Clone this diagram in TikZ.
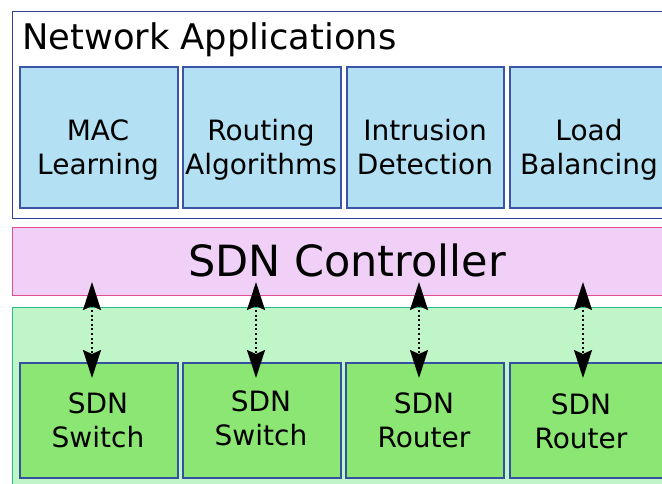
\documentclass[tikz,border=0pt]{standalone}
\usepackage{fontspec}
\setmainfont{DejaVu Sans}
\usetikzlibrary{arrows.meta}

\definecolor{appfill}{HTML}{B3E0F3}
\definecolor{appline}{HTML}{3A55A5}
\definecolor{layerline}{HTML}{2C3F9A}
\definecolor{ctrlfill}{HTML}{F0D0F7}
\definecolor{ctrlline}{HTML}{E04D90}
\definecolor{devlayerfill}{HTML}{C0F5C7}
\definecolor{devlayerline}{HTML}{28B98A}
\definecolor{devfill}{HTML}{8BE673}
\definecolor{devline}{HTML}{3550A0}

\tikzset{
  layerbox/.style={draw, line width=1.3pt},
  appbox/.style={draw=appline, fill=appfill, line width=1.5pt, inner sep=0pt, anchor=north west},
  devbox/.style={draw=devline, fill=devfill, line width=1.5pt, inner sep=0pt, anchor=north west},
  boxtext/.style={inner sep=0pt, anchor=base, font=\fontsize{28}{34}\selectfont},
  link/.style={line width=2pt, dash pattern=on 2pt off 2.6pt,
    {Stealth[length=28pt,width=18pt,inset=4pt]}-{Stealth[length=28pt,width=18pt,inset=4pt]}}
}

\newcommand{\twolines}[2]{\setlength{\tabcolsep}{0pt}\begin{tabular}[t]{c}#1\\#2\end{tabular}}

\begin{document}
\begin{tikzpicture}[x=1pt,y=-1pt]
  \useasboundingbox (0,0) rectangle (662,483);
  \clip (0,0) rectangle (662,483);

  % application layer
  \node[layerbox, draw=layerline, fill=white, inner sep=0pt, anchor=north west,
        minimum width=670pt, minimum height=207pt] (apps) at (12,11) {};
  \node[inner sep=0pt, anchor=base west, font=\fontsize{35.3}{42}\selectfont] (appstitle) at (22,49) {Network Applications};

  \node[appbox, minimum width=158pt, minimum height=141pt] (mac) at (19,66) {};
  \node[appbox, minimum width=158pt, minimum height=141pt] (routing) at (182,66) {};
  \node[appbox, minimum width=157pt, minimum height=141pt] (ids) at (346,66) {};
  \node[appbox, minimum width=170pt, minimum height=141pt] (lb) at (509,66) {};

  \node[boxtext] (mact) at (98,140) {\twolines{MAC}{Learning}};
  \node[boxtext] (routingt) at (261,140) {\twolines{Routing}{Algorithms}};
  \node[boxtext] (idst) at (425,140) {\twolines{Intrusion}{Detection}};
  \node[boxtext] (lbt) at (589,140) {\twolines{Load}{Balancing}};

  % controller layer
  \node[layerbox, draw=ctrlline, fill=ctrlfill, inner sep=0pt, anchor=north west,
        minimum width=670pt, minimum height=68pt] (ctrl) at (12,227) {};
  \node[inner sep=0pt, anchor=base, font=\fontsize{43}{50}\selectfont] (ctrlt) at (347,276) {SDN Controller};

  % forwarding layer
  \node[layerbox, draw=devlayerline, fill=devlayerfill, inner sep=0pt, anchor=north west,
        minimum width=670pt, minimum height=190pt] (devs) at (12,307) {};

  \node[devbox, minimum width=158pt, minimum height=115pt] (sw1) at (19,362) {};
  \node[devbox, minimum width=158pt, minimum height=115pt] (sw2) at (182,362) {};
  \node[devbox, minimum width=158pt, minimum height=115pt] (rt1) at (345,362) {};
  \node[devbox, minimum width=170pt, minimum height=115pt] (rt2) at (509,362) {};

  \node[boxtext] (sw1t) at (98,413) {\twolines{SDN}{Switch}};
  \node[boxtext] (sw2t) at (261,411) {\twolines{SDN}{Switch}};
  \node[boxtext] (rt1t) at (424,413) {\twolines{SDN}{Router}};
  \node[boxtext] (rt2t) at (581,414) {\twolines{SDN}{Router}};

  % controller <-> device channels
  \coordinate (c1) at (92,282);  \coordinate (d1) at (92,378);
  \coordinate (c2) at (256,282); \coordinate (d2) at (256,378);
  \coordinate (c3) at (419,282); \coordinate (d3) at (419,378);
  \coordinate (c4) at (583,282); \coordinate (d4) at (583,378);
  \draw[link] (c1) -- (d1);
  \draw[link] (c2) -- (d2);
  \draw[link] (c3) -- (d3);
  \draw[link] (c4) -- (d4);
\end{tikzpicture}
\end{document}
